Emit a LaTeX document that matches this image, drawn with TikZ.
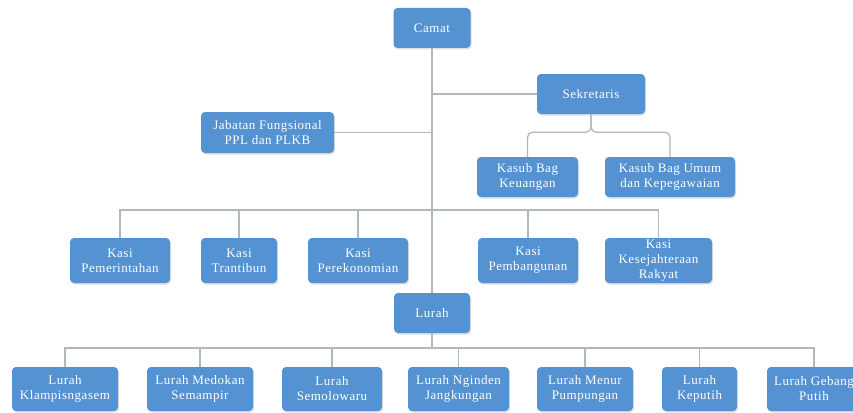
\documentclass[tikz,border=0pt]{standalone}
\usepackage{fontspec}
\setmainfont{Liberation Serif}[LetterSpace=4]
\usetikzlibrary{calc,shadows}
\definecolor{boxblue}{RGB}{84,146,209}
\definecolor{linkgray}{RGB}{176,184,192}
\tikzset{
  unit/.style={rectangle, rounded corners=4pt, fill=boxblue, draw=none,
    text=white, align=center, inner sep=1pt,
    font=\fontsize{13}{15}\selectfont,
    drop shadow={shadow xshift=1pt, shadow yshift=-1.5pt, opacity=0.25}},
  link/.style={draw=linkgray, line width=1.3pt},
}
\begin{document}
\begin{tikzpicture}[x=1pt, y=-1pt]
\fill[white] (0,0) rectangle (853,412);
\clip (0,0) rectangle (853,412);

% top level
\node[unit, minimum width=77, minimum height=40] (camat) at (432,28) {Camat};
\node[unit, minimum width=108, minimum height=40] (sek) at (591,94) {Sekretaris};
\node[unit, minimum width=133, minimum height=41] (jab) at (267.5,132.5) {Jabatan Fungsional\\PPL dan PLKB};

% secretariat sub-units
\node[unit, minimum width=101, minimum height=40] (keu) at (527.5,177) {Kasub Bag\\Keuangan};
\node[unit, minimum width=130, minimum height=40] (umum) at (670,177) {Kasub Bag Umum\\dan Kepegawaian};

% sections
\node[unit, minimum width=100, minimum height=45] (pem) at (120,260.5) {Kasi\\Pemerintahan};
\node[unit, minimum width=76, minimum height=45] (tra) at (239,260.5) {Kasi\\Trantibun};
\node[unit, minimum width=100, minimum height=45] (eko) at (358,260.5) {Kasi\\Perekonomian};
\node[unit, minimum width=100, minimum height=45] (bang) at (528,260.5) {Kasi\\Pembangunan};
\node[unit, minimum width=107, minimum height=45] (kes) at (658.5,260.5) {Kasi\\Kesejahteraan\\Rakyat};

% villages
\node[unit, minimum width=76, minimum height=40] (lurah) at (432,313) {Lurah};
\node[unit, minimum width=106, minimum height=44] (l1) at (65,389) {Lurah\\Klampisngasem};
\node[unit, minimum width=106, minimum height=44] (l2) at (200,389) {Lurah Medokan\\Semampir};
\node[unit, minimum width=100, minimum height=44] (l3) at (332,389) {Lurah\\Semolowaru};
\node[unit, minimum width=101, minimum height=44] (l4) at (458.5,389) {Lurah Nginden\\Jangkungan};
\node[unit, minimum width=96, minimum height=44] (l5) at (585,389) {Lurah Menur\\Pumpungan};
\node[unit, minimum width=75, minimum height=44] (l6) at (699.5,389) {Lurah\\Keputih};
\node[unit, minimum width=94, minimum height=44] (l7) at (814,389) {Lurah Gebang\\Putih};

% bus lines
\coordinate (sbus) at ($(sek.south)+(0,18)$);
\coordinate (kbus) at (432,210);
\coordinate (lbus) at (432,348);

% trunk
\draw[link] (camat.south) -- (lurah.north);
\draw[link] (sek.west) -- (sek.west -| camat.south);
\draw[link] (jab.east) -- (jab.east -| camat.south);

% secretariat brace
\draw[link, rounded corners=5pt] (sek.south) |- (keu.north |- sbus) -- (keu.north);
\draw[link, rounded corners=5pt] (sek.south) |- (umum.north |- sbus) -- (umum.north);

% sections bus
\draw[link] (pem.north) -- (pem.north |- kbus) -- (kes.north |- kbus) -- (kes.north);
\draw[link] (tra.north) -- (tra.north |- kbus);
\draw[link] (eko.north) -- (eko.north |- kbus);
\draw[link] (bang.north) -- (bang.north |- kbus);

% villages bus
\draw[link] (lurah.south) -- (lbus);
\draw[link] (l1.north) -- (l1.north |- lbus) -- (l7.north |- lbus) -- (l7.north);
\foreach \n in {l2,l3,l4,l5,l6}
  \draw[link] (\n.north) -- (\n.north |- lbus);
\end{tikzpicture}
\end{document}
